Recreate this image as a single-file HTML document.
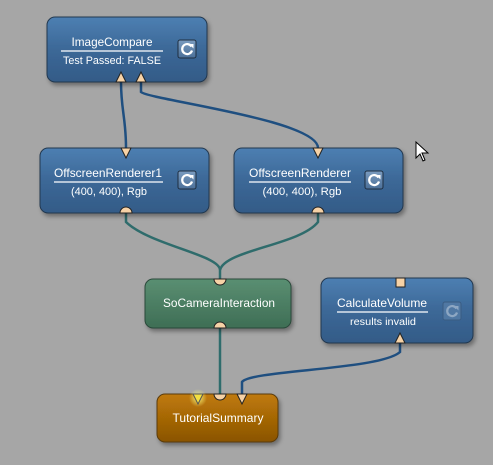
<!DOCTYPE html>
<html><head><meta charset="utf-8"><style>
html,body{margin:0;padding:0;background:#a6a6a6;}
svg{display:block}
text{font-family:"Liberation Sans",sans-serif;fill:#fff;}
</style></head><body>
<svg width="493" height="465" viewBox="0 0 493 465" xmlns="http://www.w3.org/2000/svg">
<defs>
<linearGradient id="blue" x1="0" y1="0" x2="0" y2="1"><stop offset="0" stop-color="#4d7fb2"/><stop offset="0.5" stop-color="#3c6897"/><stop offset="1" stop-color="#335b87"/></linearGradient>
<linearGradient id="green" x1="0" y1="0" x2="0" y2="1"><stop offset="0" stop-color="#5a8f72"/><stop offset="1" stop-color="#3e6e55"/></linearGradient>
<linearGradient id="orange" x1="0" y1="0" x2="0" y2="1"><stop offset="0" stop-color="#c07a08"/><stop offset="1" stop-color="#8a5404"/></linearGradient>
<linearGradient id="btn" x1="0" y1="0" x2="0" y2="1"><stop offset="0" stop-color="#7b9cc0"/><stop offset="1" stop-color="#4b6f98"/></linearGradient>
<filter id="sh" x="-10%" y="-10%" width="130%" height="140%"><feDropShadow dx="2" dy="3" stdDeviation="2" flood-color="#000" flood-opacity="0.35"/></filter>
<radialGradient id="glow"><stop offset="0" stop-color="#ffff80" stop-opacity="0.9"/><stop offset="1" stop-color="#ffff80" stop-opacity="0"/></radialGradient>
<g id="ref"><path d="M4.5 -2.5 A5 5 0 1 0 5 1.5" fill="none" stroke="#fff" stroke-width="2.2"/><path d="M2 -5 L6.5 -5 L6.5 -0.5 Z" fill="#fff"/></g>
</defs>
<g fill="none" stroke-width="2.5">
<path d="M121 82 C121 110 126 118 126 148" stroke="#1f4f80"/>
<path d="M141 82 L141 92 C150 100 318 120 318 148" stroke="#1f4f80"/>
<path d="M126 213 L126 222 C150 245 220 255 220 270 L220 279" stroke="#2f6c6c"/>
<path d="M318 213 L318 222 C300 245 225 250 220 270" stroke="#2f6c6c"/>
<path d="M220 328 L220 394" stroke="#2f6c6c"/>
<path d="M400 343 L400 352 C380 370 250 370 242 382 L242 394" stroke="#1f4f80"/>
</g>
<g filter="url(#sh)" stroke="#22384f" stroke-width="1">
<rect x="47" y="17" width="160" height="65" rx="8" fill="url(#blue)"/>
<rect x="40" y="148" width="169" height="65" rx="8" fill="url(#blue)"/>
<rect x="234" y="148" width="169" height="65" rx="8" fill="url(#blue)"/>
<rect x="145" y="279" width="146" height="49" rx="8" fill="url(#green)" stroke="#2b4a3a"/>
<rect x="321" y="278" width="152" height="65" rx="8" fill="url(#blue)"/>
<rect x="157" y="394" width="121" height="48" rx="8" fill="url(#orange)" stroke="#5a3a08"/>
</g>
<g font-size="12" text-anchor="middle" lengthAdjust="spacingAndGlyphs">
<text x="112" y="46" textLength="81" lengthAdjust="spacingAndGlyphs">ImageCompare</text>
<text x="112" y="64" font-size="11" textLength="98" lengthAdjust="spacingAndGlyphs">Test Passed: FALSE</text>
<text x="108" y="177" textLength="108" lengthAdjust="spacingAndGlyphs">OffscreenRenderer1</text>
<text x="109" y="195" font-size="11" textLength="76" lengthAdjust="spacingAndGlyphs">(400, 400), Rgb</text>
<text x="300" y="177" textLength="102" lengthAdjust="spacingAndGlyphs">OffscreenRenderer</text>
<text x="302" y="195" font-size="11" textLength="79" lengthAdjust="spacingAndGlyphs">(400, 400), Rgb</text>
<text x="219" y="307" textLength="112" lengthAdjust="spacingAndGlyphs">SoCameraInteraction</text>
<text x="382" y="307" textLength="90" lengthAdjust="spacingAndGlyphs">CalculateVolume</text>
<text x="383" y="325" font-size="10" textLength="66" lengthAdjust="spacingAndGlyphs">results invalid</text>
<text x="218" y="422" textLength="91" lengthAdjust="spacingAndGlyphs">TutorialSummary</text>
</g>
<g stroke="#fff" stroke-width="1.2">
<line x1="61" y1="51" x2="163" y2="51"/>
<line x1="54" y1="182" x2="163" y2="182"/>
<line x1="249" y1="182" x2="351" y2="182"/>
<line x1="337" y1="312" x2="428" y2="312"/>
</g>
<g stroke="#1e2e40" stroke-width="1">
<rect x="178" y="40" width="18" height="18" rx="2" fill="url(#btn)"/>
<rect x="178" y="171" width="18" height="18" rx="2" fill="url(#btn)"/>
<rect x="365" y="171" width="18" height="18" rx="2" fill="url(#btn)"/>
<rect x="443" y="302" width="18" height="18" rx="2" fill="#5078a3" stroke="#3a5c82"/>
</g>
<use href="#ref" x="187" y="49"/>
<use href="#ref" x="187" y="180"/>
<use href="#ref" x="374" y="180"/>
<use href="#ref" x="452" y="311" opacity="0.35"/>
<g fill="#f6d2a6" stroke="#222" stroke-width="1">
<path d="M116 82 L121 72 L126 82 Z"/><path d="M136 82 L141 72 L146 82 Z"/>
<path d="M121 148 L131 148 L126 158 Z"/><path d="M313 148 L323 148 L318 158 Z"/>
<path d="M120 213 A6 6 0 0 1 132 213 Z"/><path d="M312 213 A6 6 0 0 1 324 213 Z"/>
<path d="M214 279 L226 279 A6 6 0 0 1 214 279 Z"/>
<path d="M214 328 A6 6 0 0 1 226 328 Z"/>
<rect x="396" y="278" width="9" height="9"/>
<path d="M395 343 L400 333 L405 343 Z"/>
<path d="M214 394 L226 394 A6 6 0 0 1 214 394 Z"/>
<path d="M237 394 L247 394 L242 404 Z"/>
</g>
<circle cx="198" cy="398" r="9" fill="url(#glow)"/>
<path d="M193 394 L203 394 L198 404 Z" fill="#f2e040" stroke="#555" stroke-width="1"/>
<path d="M416 142 L416 158 L420 154 L423 161 L425 160 L422 153 L428 153 Z" fill="#fff" stroke="#000" stroke-width="1"/>
</svg>
</body></html>
